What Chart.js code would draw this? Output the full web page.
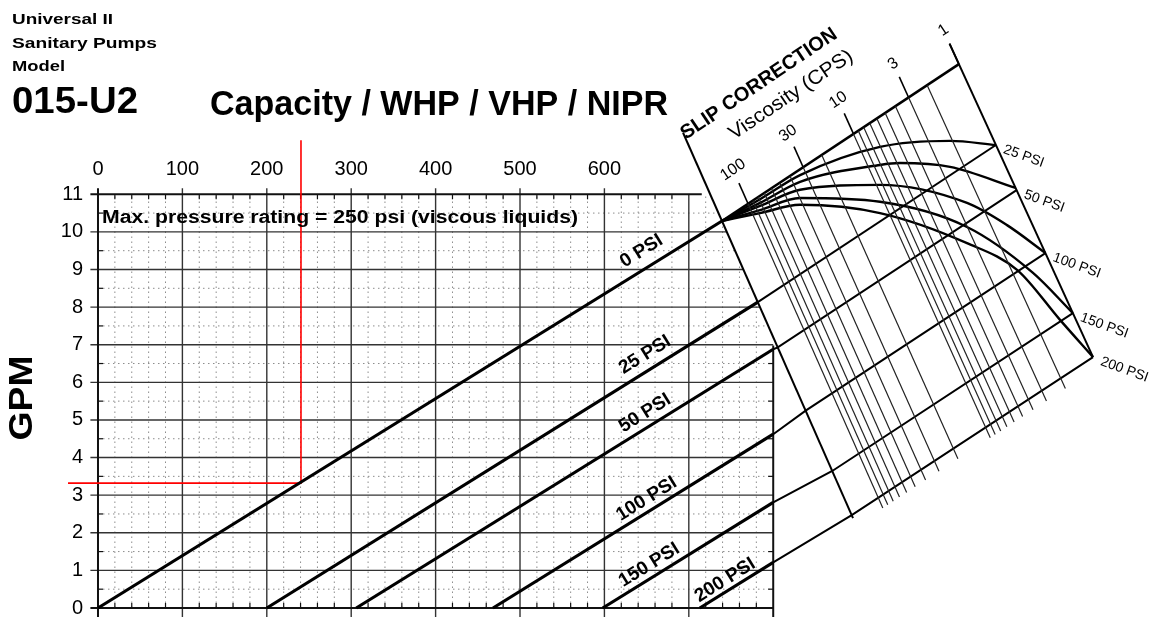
<!DOCTYPE html>
<html>
<head>
<meta charset="utf-8">
<script src="https://cdn.jsdelivr.net/npm/chart.js@4.4.0/dist/chart.umd.min.js"></script>
<style>
  html, body { margin: 0; padding: 0; background: #fff; }
  canvas { display: block; }
</style>
</head>
<body>
<canvas id="pump" width="1157" height="621"></canvas>
<script>
// capacity chart: RPM across, GPM up
const rpmLabels = [0, 100, 200, 300, 400, 500, 600];
const gpmLabels = [0, 1, 2, 3, 4, 5, 6, 7, 8, 9, 10, 11];

const psiNames = ['0 PSI', '25 PSI', '50 PSI', '100 PSI', '150 PSI', '200 PSI'];
const psiStartRpm = [0, 200, 306, 468, 598, 713];
const psiEndRpm = [739.3, 781.8, 800, 800, 800, 800];
const psiEndGpm = [10.29, 8.13, 6.88, 4.62, 2.81, 1.21];
const psiLabelRpm = [644, 648, 648, 650, 653, 743];
const psiLabelGpm = [9.49, 6.73, 5.18, 2.90, 1.14, 0.74];

// red example reading
const exampleRpm = 240.5;
const exampleGpm = 3.32;
const exampleFromRpm = -35.5;
const exampleToGpm = 12.44;

// slip correction nomogram, corners in chart units (rpm, gpm)
const slipFan = [739.3, 10.29];
const slipTop = [1020, 14.46];
const slipBottomLeft = [893, 2.47];
const slipBottomRight = [1178.9, 6.67];
const slipPsiLevel = [0, 0.276, 0.43, 0.645, 0.85, 1];
const viscosityLines = [100, 90, 80, 70, 60, 50, 40, 30, 20, 10, 9, 8, 7, 6, 5, 4, 3, 2];
const viscosityTicks = [100, 30, 10, 3, 1];

const curve25 = [[739.3, 10.29], [784.4, 10.87], [831.8, 11.51], [926.5, 12.26], [1009.5, 12.42], [1063.9, 12.31]];
const curve50 = [[739.3, 10.29], [784.4, 10.77], [831.8, 11.33], [926.5, 11.78], [950.2, 11.83], [1009.5, 11.73], [1087.2, 11.17]];
const curve100 = [[739.3, 10.29], [784.4, 10.69], [831.8, 11.12], [926.5, 11.25], [1029.6, 10.77], [1077.0, 10.18], [1122.5, 9.44]];
const curve150 = [[739.3, 10.29], [784.4, 10.58], [831.8, 10.90], [926.5, 10.80], [1029.6, 10.13], [1107.8, 8.91], [1155.0, 7.84]];
const curve200 = [[739.3, 10.29], [784.4, 10.50], [831.8, 10.72], [926.5, 10.50], [1029.6, 9.70], [1088.9, 8.99], [1139.8, 7.66], [1178.9, 6.67]];

// helpers
const FONT = '"Liberation Sans", Arial, Helvetica, sans-serif';

function slipPoint(t, s) {
  const tx = slipFan[0] + t * (slipTop[0] - slipFan[0]);
  const ty = slipFan[1] + t * (slipTop[1] - slipFan[1]);
  const bx = slipBottomLeft[0] + t * (slipBottomRight[0] - slipBottomLeft[0]);
  const by = slipBottomLeft[1] + t * (slipBottomRight[1] - slipBottomLeft[1]);
  return { x: tx + s * (bx - tx), y: ty + s * (by - ty) };
}
const viscT = v => 1 - 0.445 * Math.log10(v);
const axisGpmAt = r => slipFan[1] + (r - slipFan[0]) * (slipBottomLeft[1] - slipFan[1]) / (slipBottomLeft[0] - slipFan[0]);
const axisRpmAt = g => slipFan[0] + (g - slipFan[1]) * (slipBottomLeft[0] - slipFan[0]) / (slipBottomLeft[1] - slipFan[1]);

function line(points, width, color, extra) {
  return Object.assign({
    data: points, showLine: true, borderColor: color || '#000', borderWidth: width,
    pointRadius: 0, fill: false, tension: 0
  }, extra || {});
}
const pts = arr => arr.map(p => ({ x: p[0], y: p[1] }));

// datasets
const datasets = [];

// viscosity lines + ticks
viscosityLines.forEach(v => {
  const t = viscT(v);
  datasets.push(line([slipPoint(t, 0), slipPoint(t, 1.035)], 1.2, '#222'));
});
viscosityTicks.forEach(v => {
  const t = viscT(v);
  datasets.push(line([slipPoint(t, -0.07), slipPoint(t, 0)], 1.6));
});

// nomogram axes
datasets.push(line([slipPoint(0, -0.3), slipPoint(0, 1.01)], 2));
datasets.push(line([slipPoint(1, -0.07), slipPoint(1, 1)], 2));

// pressure lines across the nomogram
slipPsiLevel.forEach((s, i) => {
  const p = [];
  if (psiEndRpm[i] >= 800) p.push({ x: psiEndRpm[i], y: psiEndGpm[i] });
  p.push(slipPoint(0, s), slipPoint(1, s));
  datasets.push(line(p, i === 0 ? 2.6 : 2));
});

// slip curves
[curve25, curve50, curve100, curve150, curve200].forEach(c => {
  datasets.push(line(pts(c), 2.4, '#000', { cubicInterpolationMode: 'monotone' }));
});

// capacity lines
psiNames.forEach((n, i) => {
  datasets.push(line([{ x: psiStartRpm[i], y: 0 }, { x: psiEndRpm[i], y: psiEndGpm[i] }], 3.2, '#000', { label: n }));
});

// red reading
datasets.push(line([{ x: exampleFromRpm, y: exampleGpm }, { x: exampleRpm, y: exampleGpm }, { x: exampleRpm, y: exampleToGpm }], 1.6, '#f00'));

// grid drawn through the scales, clipped by the nomogram axis
const gridPlugin = {
  id: 'pumpGrid',
  beforeDatasetsDraw(chart) {
    const { ctx, scales: { x, y } } = chart;
    const px = v => x.getPixelForValue(v), py = v => y.getPixelForValue(v);
    const seg = (x1, y1, x2, y2) => {
      ctx.beginPath(); ctx.moveTo(px(x1), py(y1)); ctx.lineTo(px(x2), py(y2)); ctx.stroke();
    };
    ctx.save();
    // minor dotted grid
    ctx.strokeStyle = '#8c8c8c';
    ctx.lineWidth = 1;
    ctx.setLineDash([1.5, 3.5]);
    for (let r = 20; r < 800; r += 20) {
      if (r % 100 === 0) continue;
      seg(r, 0, r, Math.min(11, axisGpmAt(r)));
    }
    for (let g = 0.5; g < 11; g += 1) seg(0, g, Math.min(800, axisRpmAt(g)), g);
    ctx.setLineDash([]);

    // major grid
    ctx.strokeStyle = '#333';
    ctx.lineWidth = 1.4;
    for (let g = 1; g <= 10; g++) seg(-9, g, Math.min(800, axisRpmAt(g)), g);
    for (let r = 100; r <= 700; r += 100) seg(r, -0.24, r, r <= 600 ? 11.16 : 11);

    // frame
    ctx.strokeStyle = '#111';
    ctx.lineWidth = 2;
    seg(-9, 0, 800, 0);
    seg(-9, 11, axisRpmAt(11) - 10, 11);
    seg(0, -0.24, 0, 11.16);
    seg(800, -0.24, 800, 6.98);

    // small ticks on the frame
    ctx.lineWidth = 1.2;
    for (let r = 20; r < 800; r += 20) {
      if (r % 100 === 0) continue;
      ctx.beginPath(); ctx.moveTo(px(r), py(0)); ctx.lineTo(px(r), py(0) - 5); ctx.stroke();
      if (r < 700) { ctx.beginPath(); ctx.moveTo(px(r), py(11)); ctx.lineTo(px(r), py(11) + 5); ctx.stroke(); }
    }
    for (let g = 0.5; g < 11; g += 1) {
      ctx.beginPath(); ctx.moveTo(px(0), py(g)); ctx.lineTo(px(0) + 5, py(g)); ctx.stroke();
      if (g < 7) { ctx.beginPath(); ctx.moveTo(px(800), py(g)); ctx.lineTo(px(800) - 5, py(g)); ctx.stroke(); }
    }
    ctx.restore();
  }
};

function text(ctx, str, x, y, o) {
  ctx.save();
  ctx.translate(x, y);
  if (o.angle) ctx.rotate(o.angle * Math.PI / 180);
  ctx.font = o.font;
  ctx.fillStyle = o.color || '#000';
  ctx.textAlign = o.align || 'left';
  ctx.textBaseline = o.baseline || 'alphabetic';
  if (o.width) ctx.scale(o.width / ctx.measureText(str).width, 1);
  ctx.fillText(str, 0, 0);
  ctx.restore();
}

const labelPlugin = {
  id: 'pumpLabels',
  afterDatasetsDraw(chart) {
    const { ctx, scales: { x, y } } = chart;
    const px = v => x.getPixelForValue(v), py = v => y.getPixelForValue(v);

    // header
    text(ctx, 'Universal II', 12, 24, { font: 'bold 15px ' + FONT, width: 101 });
    text(ctx, 'Sanitary Pumps', 12, 48, { font: 'bold 15px ' + FONT, width: 145 });
    text(ctx, 'Model', 12, 71, { font: 'bold 15px ' + FONT, width: 53 });
    text(ctx, '015-U2', 12, 113, { font: 'bold 37px ' + FONT, width: 126 });
    text(ctx, 'Capacity / WHP / VHP / NIPR', 210, 115, { font: 'bold 35px ' + FONT, width: 458 });

    // axis labels
    rpmLabels.forEach(r => text(ctx, String(r), px(r), 175, { font: '20px ' + FONT, align: 'center' }));
    gpmLabels.forEach(g => text(ctx, String(g), 83, py(g), { font: '20px ' + FONT, align: 'right', baseline: 'middle' }));
    text(ctx, 'GPM', 23, 398, { font: 'bold 34px ' + FONT, angle: -90, align: 'center', baseline: 'middle', width: 85 });

    text(ctx, 'Max. pressure rating = 250 psi (viscous liquids)', 102, 223, { font: 'bold 18px ' + FONT, width: 476 });

    // pressure line labels
    psiNames.forEach((n, i) => {
      text(ctx, n, px(psiLabelRpm[i]), py(psiLabelGpm[i]), { font: 'bold 19px ' + FONT, angle: -31.8, align: 'center', baseline: 'middle' });
    });

    // nomogram titles
    text(ctx, 'SLIP CORRECTION', 759, 84, { font: 'bold 20px ' + FONT, angle: -34, align: 'center', baseline: 'middle', width: 184 });
    text(ctx, 'Viscosity (CPS)', 791, 95, { font: '20px ' + FONT, angle: -34, align: 'center', baseline: 'middle', width: 145 });
    viscosityTicks.forEach(v => {
      const p = slipPoint(viscT(v), -0.115);
      text(ctx, String(v), px(p.x), py(p.y), { font: '16px ' + FONT, angle: -34, align: 'center', baseline: 'middle' });
    });
    psiNames.slice(1).forEach((n, i) => {
      const p = slipPoint(1, slipPsiLevel[i + 1]);
      text(ctx, n, px(p.x) + 8, py(p.y) + 4, { font: '14px ' + FONT, angle: 20, baseline: 'middle' });
    });
  }
};

new Chart(document.getElementById('pump'), {
  type: 'scatter',
  data: { datasets: datasets },
  options: {
    responsive: false,
    animation: false,
    events: [],
    layout: { padding: 0, autoPadding: false },
    plugins: { legend: { display: false }, tooltip: { enabled: false } },
    scales: {
      x: { type: 'linear', min: -116.1, max: 1254.7, display: false },
      y: { type: 'linear', min: -0.346, max: 16.166, display: false }
    }
  },
  plugins: [gridPlugin, labelPlugin]
});
</script>
</body>
</html>
